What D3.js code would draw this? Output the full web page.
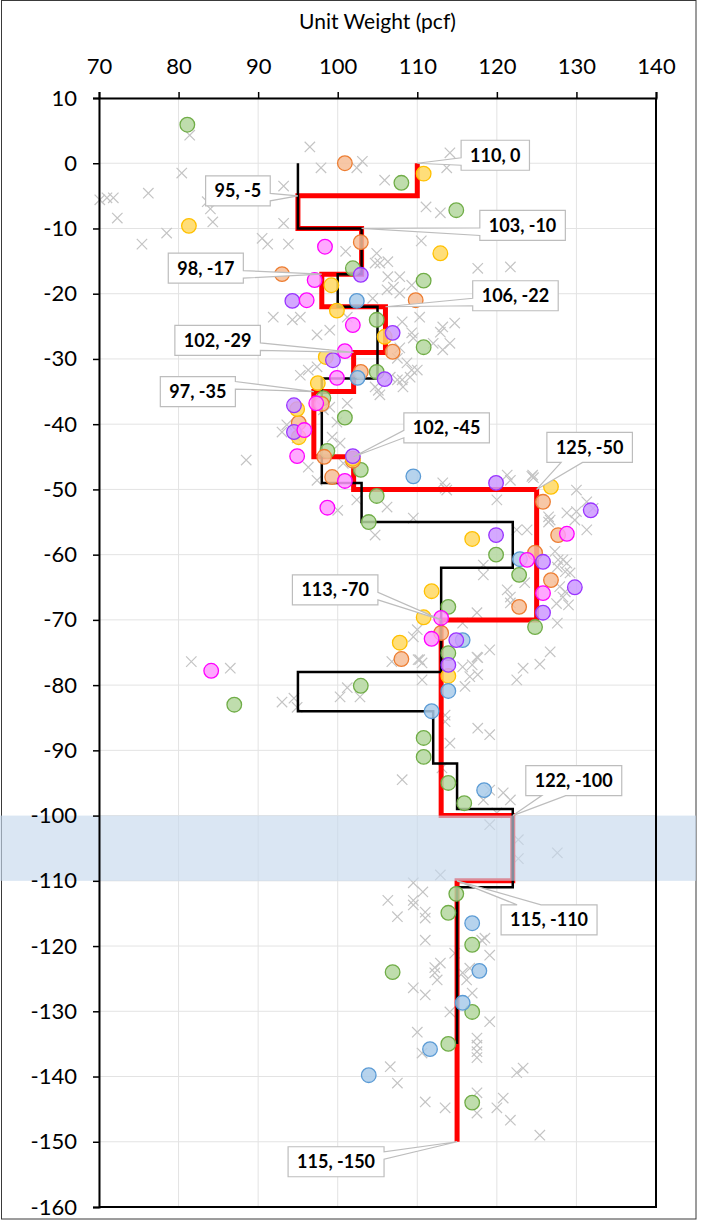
<!DOCTYPE html>
<html>
<head>
<meta charset="utf-8">
<script src="https://cdn.jsdelivr.net/npm/d3@7"></script>
<style>
  body { margin: 0; background: #fff; }
  svg { display: block; }
  text { font-family: Lato, "Open Sans", "Liberation Sans", sans-serif; }
</style>
</head>
<body>
<svg id="chart" width="718" height="1220"></svg>
<script>
// ---- axis ticks ----
const xTicks = [70, 80, 90, 100, 110, 120, 130, 140];
const yTicks = [10, 0, -10, -20, -30, -40, -50, -60, -70, -80, -90, -100, -110, -120, -130, -140, -150, -160];

// ---- design profile (red): unit weight per layer, layer tops, final base ----
const designWeight = [110, 95, 103, 98, 106, 102, 97, 102, 125, 113, 122, 115];
const designTop    = [0, -5, -10, -17, -22, -29, -35, -45, -50, -70, -100, -110];
const designBase   = -150;

// ---- averaged profile (black) ----
const avgWeight = [95, 103, 100, 105, 98, 103, 122, 113, 95, 112, 115, 122, 115];
const avgTop    = [0, -10, -17, -22, -33, -49, -55, -62, -78, -84, -92, -99, -111];
const avgBase   = -135;

// ---- highlighted depth band ----
const bandDepth = [-100, -110];

// ---- lab test results by boring: [unit weight, depth] ----
const greenPts = [[81.1,5.9],[108,-3],[114.9,-7.2],[101.9,-16.1],[110.8,-18],[104.9,-24],[110.8,-28.2],
  [104.9,-32],[98.2,-36],[100.9,-39],[98.7,-44.1],[102.9,-47],[104.9,-51],[103.9,-55],[119.9,-60],
  [122.8,-63.1],[124.8,-71.1],[113.9,-68],[113.9,-75.1],[102.9,-80.1],[87,-83],[110.8,-88.1],[110.8,-91],
  [113.9,-95],[115.9,-98.1],[114.9,-112],[113.9,-114.9],[116.9,-119.8],[106.9,-124],[116.9,-130.1],
  [113.9,-135],[116.9,-144]];
const orangePts = [[100.9,0],[102.9,-12.1],[93,-17],[109.8,-21],[106.9,-28.9],[102.9,-32],[98,-36.9],
  [95.1,-39.8],[98.3,-45],[101.9,-45.6],[99.3,-48.1],[125.8,-51.9],[127.7,-57],[124.8,-59.7],
  [126.8,-63.9],[122.8,-68],[113,-72],[108,-76]];
const yellowPts = [[110.8,-1.6],[81.3,-9.6],[112.9,-13.8],[99.2,-18.7],[99.9,-22.6],[105.9,-26.6],
  [98.5,-29.7],[97.5,-33.7],[94.9,-37.7],[95.1,-42],[101.9,-45.3],[126.8,-49.6],[116.9,-57.6],
  [111.8,-65.6],[110.8,-69.6],[107.8,-73.5],[113.9,-78.6]];
const bluePts = [[102.4,-21.1],[102.5,-32.9],[109.5,-48],[122.9,-60.7],[115.7,-73.1],[113.9,-80.9],
  [111.8,-84],[118.4,-96.1],[116.9,-116.5],[117.8,-123.8],[115.7,-128.7],[111.6,-135.8],[103.9,-139.8]];
const purplePts = [[102.9,-17.1],[94.3,-21.1],[106.9,-26],[99.4,-30.2],[105.9,-33.1],[94.5,-37.1],
  [94.5,-41.2],[101.9,-44.9],[119.9,-49],[131.8,-53.2],[119.9,-57],[125.8,-61.1],[129.8,-65],
  [125.8,-68.9],[114.9,-73.1],[113.9,-76.9]];
const magentaPts = [[98.4,-12.8],[97.1,-17.9],[96.1,-21],[101.9,-24.8],[100.9,-28.8],[99.9,-32.9],
  [97.3,-36.8],[95.8,-40.9],[94.9,-44.9],[100.9,-48.7],[98.7,-52.8],[128.8,-56.8],[123.8,-60.8],
  [125.8,-65.9],[113,-69.7],[111.8,-72.9],[84.1,-77.8]];

// ---- field-correlated estimates (gray crosses) ----
const crossPts = [[81.4,4.3],[96.5,2.5],[80.4,-1.5],[97.9,-0.7],[102.4,-0.7],[103.1,0.3],[105.9,-2.6],
  [93.2,-3.5],[70.1,-5.6],[71,-5.3],[71.8,-5.3],[76.2,-4.6],[83.6,-5.9],[84,-7],[84.3,-9],[72.3,-8.4],
  [78.5,-10.7],[75.4,-12.4],[90.5,-11.5],[91.2,-12.4],[93.2,-9.2],[93.8,-12.4],[101,-13.5],[104.9,-13.8],
  [105.3,-15.3],[104.4,-20.7],[91.9,-23.6],[94.3,-24],[106.2,-19.4],[101.2,-23.6],[113.7,-0.7],[114.1,1.6],
  [111.1,-6.7],[112.9,-7.6],[110.5,-11.9],[106.3,-15.1],[104.7,-15.3],[117.6,-16.1],[121.7,-15.9],
  [106.3,-17.4],[107.8,-17.4],[107,-19],[109.3,-18.7],[107.8,-19.9],[110.3,-23.6],[108.1,-24.3],
  [113.2,-25.1],[114.7,-24.5],[112.9,-25.9],[109.3,-26],[109.5,-26.8],[112,-27.6],[113.2,-28.6],
  [114.1,-27.6],[107.8,-28.3],[107.5,-29.9],[108.7,-30.6],[109.3,-31.7],[107.5,-33.2],[108.1,-33.2],
  [106.6,-32.8],[104.7,-34.3],[105.3,-35.5],[95.3,-32.5],[96.3,-31.7],[97.4,-31.2],[98.2,-37.8],
  [99,-37.4],[101.2,-36.8],[93.6,-40.1],[93,-41.2],[99.3,-42],[99.9,-39.7],[94.9,-42.1],[95.3,-23.6],
  [99,-25.6],[97.4,-26.3],[109.1,-32.8],[108.2,-34.3],[110,-31.7],[105.1,-34.8],[100.3,-42.9],
  [100.7,-46],[97.4,-48.6],[113.2,-49],[113.7,-50.1],[124.5,-47.8],[121.3,-47.8],[88.5,-45.5],
  [96.3,-46.6],[100,-53.2],[102.4,-51.6],[106.2,-52.7],[109.5,-54.4],[104.7,-57],[113.5,-49.8],
  [120,-51.6],[121.7,-48.6],[123.8,-56.2],[122.5,-56.2],[126.7,-54.7],[128.8,-53.6],[129.8,-54.7],
  [118.3,-61.6],[118.3,-63.1],[121.3,-65.4],[121.7,-66.5],[121.7,-67.4],[123.5,-64.3],[127.6,-61.9],
  [128.3,-60.8],[129.2,-62.8],[128.3,-66.5],[127.6,-70.5],[117.5,-68.9],[115.7,-70.5],[110,-71.5],
  [110.3,-76.1],[109.5,-72.6],[119.1,-74.6],[117.5,-75.7],[115.7,-77.2],[116.6,-78.7],[122.5,-79.2],
  [123.3,-77.4],[126.7,-74.9],[101.2,-80.4],[102.8,-81.8],[100.3,-81.8],[81.6,-76.4],[86.5,-77.4],
  [93,-82.6],[94.5,-82],[94.9,-83.4],[106.8,-76.4],[110.1,-76.1],[110.6,-76.6],[110.6,-79.2],
  [116.9,-76.9],[117.6,-75.8],[117.6,-78.4],[116,-80.2],[113.5,-84.6],[113.5,-85.6],[114.1,-88.9],
  [117.6,-86.6],[119.1,-87.6],[113.1,-92.7],[108.1,-94.5],[119.1,-96.1],[124.4,-48],[124.6,-48.2],
  [130,-50.1],[131.3,-51.9],[132.1,-52.9],[130,-53.4],[126.5,-54.2],[126.5,-55],[131.3,-56.2],
  [127.3,-59.5],[127.7,-60.8],[128.8,-61.3],[128.6,-62.6],[127.9,-64.9],[128.6,-65.7],[127.5,-67.5],
  [129,-67.7],[125.4,-76.8],
  [120.8,-96.5],[121.7,-97.6],[118.3,-97.6],[120,-99.6],[119.1,-101.4],[122.7,-103.7],[122.7,-106.6],
  [127.6,-105.7],[112.9,-109.1],[109.5,-110.3],[110.7,-111.7],[109.5,-113],[109.5,-113.7],[106.3,-113],
  [107.5,-115.5],[111,-114.8],[111,-115.7],[111,-119.1],[114.7,-121.1],[118.5,-118.8],[118.1,-119.1],
  [119.1,-121.4],[112.9,-122.6],[112.2,-123.3],[112.2,-124.1],[112.5,-125.2],[115.7,-124.1],
  [116.2,-125.2],[116.6,-123.4],[109.5,-126.4],[111,-127.5],[116.9,-127.2],[114.1,-130.1],
  [119.1,-131.6],[110,-133.2],[110.6,-136.4],[117.5,-134.1],[117.5,-135.2],[117.5,-136.2],
  [117.5,-137.1],[106.6,-138.5],[107.5,-141],[122.5,-139.4],[123.3,-138.7],[111,-143.9],[113.5,-144.8],
  [117.5,-142.5],[117.5,-145.6],[120.8,-143.3],[120,-144.8],[121.7,-146.7],[125.4,-149]];

// ---- layout ----
const plot = { left: 99, right: 656, top: 98, bottom: 1207 };
const svg = d3.select("#chart");

const x = d3.scaleLinear().domain([70, 140]).range([plot.left, plot.right]);
const y = d3.scaleLinear().domain([10, -160]).range([plot.top, plot.bottom]);

// outer frame
svg.append("rect").attr("x", 1.5).attr("y", 0.5).attr("width", 694.5).attr("height", 1218.5)
  .attr("fill", "#fff").attr("stroke", "#3a3a3a").attr("stroke-width", 1);

// gridlines
const grid = svg.append("g").attr("stroke", "#e3e3e3").attr("stroke-width", 1);
grid.selectAll("line.v").data(xTicks).join("line")
  .attr("x1", d => x(d)).attr("x2", d => x(d)).attr("y1", plot.top).attr("y2", plot.bottom);
grid.selectAll("line.h").data(yTicks).join("line")
  .attr("x1", plot.left).attr("x2", plot.right).attr("y1", d => y(d)).attr("y2", d => y(d));

// crosses
const cr = 5.2;
svg.append("g").selectAll("path").data(crossPts).join("path")
  .attr("d", d => {
    const cx = x(d[0]), cy = y(d[1]);
    return `M${cx - cr},${cy - cr}L${cx + cr},${cy + cr}M${cx - cr},${cy + cr}L${cx + cr},${cy - cr}`;
  })
  .attr("stroke", "#c4c4c4").attr("stroke-width", 1.2).attr("fill", "none");

// step profile from layer weights/tops
function stepPoints(weights, tops, base) {
  const pts = [];
  weights.forEach((w, i) => {
    const bottom = i < weights.length - 1 ? tops[i + 1] : base;
    pts.push([w, tops[i]], [w, bottom]);
  });
  return pts;
}
const line = d3.line().x(d => x(d[0])).y(d => y(d[1]));

svg.append("path").datum(stepPoints(designWeight, designTop, designBase))
  .attr("d", line).attr("fill", "none").attr("stroke", "#ff0000").attr("stroke-width", 5)
  .attr("stroke-linejoin", "miter");
svg.append("path").datum(stepPoints(avgWeight, avgTop, avgBase))
  .attr("d", line).attr("fill", "none").attr("stroke", "#000").attr("stroke-width", 2.5)
  .attr("stroke-linejoin", "miter");

// test results
const series = [
  { pts: greenPts,   stroke: "#70ad47", fill: "#b4d79f" },
  { pts: orangePts,  stroke: "#ed7d31", fill: "#f6bd97" },
  { pts: yellowPts,  stroke: "#ffc000", fill: "#ffd862" },
  { pts: bluePts,    stroke: "#5b9bd5", fill: "#a9cbea" },
  { pts: purplePts,  stroke: "#9933ff", fill: "#cc99ff" },
  { pts: magentaPts, stroke: "#ff00ff", fill: "#ff99ff" }
];
series.forEach(s => {
  svg.append("g").selectAll("circle").data(s.pts).join("circle")
    .attr("cx", d => x(d[0])).attr("cy", d => y(d[1])).attr("r", 7.3)
    .attr("fill", s.fill).attr("fill-opacity", 0.85)
    .attr("stroke", s.stroke).attr("stroke-width", 1.3);
});

// highlighted band
svg.append("rect").attr("x", 0).attr("width", 696)
  .attr("y", y(bandDepth[0])).attr("height", y(bandDepth[1]) - y(bandDepth[0]))
  .attr("fill", "#c6d9ec").attr("fill-opacity", 0.65);

// axes
const fmt = d => String(d);
const axisTop = svg.append("g").attr("transform", `translate(0,${plot.top})`)
  .call(d3.axisTop(x).tickValues(xTicks).tickFormat(fmt).tickSize(6).tickPadding(18));
const axisLeft = svg.append("g").attr("transform", `translate(${plot.left},0)`)
  .call(d3.axisLeft(y).tickValues(yTicks).tickFormat(fmt).tickSize(6).tickPadding(16));
[axisTop, axisLeft].forEach(g => {
  g.select(".domain").attr("stroke", "#000").attr("stroke-width", 2);
  g.selectAll(".tick line").attr("stroke", "#000").attr("stroke-width", 1.5);
  g.selectAll(".tick text").attr("fill", "#000").style("font-size", "22px")
    .style("font-family", "Lato, 'Open Sans', sans-serif");
});
// right and bottom plot border
svg.append("path")
  .attr("d", `M${plot.right},${plot.top}V${plot.bottom}H${plot.left}`)
  .attr("fill", "none").attr("stroke", "#000").attr("stroke-width", 2);

// axis title
svg.append("text").attr("x", (plot.left + plot.right) / 2).attr("y", 29)
  .attr("text-anchor", "middle").style("font-size", "21px").attr("fill", "#000")
  .text("Unit Weight (pcf)");

// callout labels at layer corners
const labelPts = designWeight.map((w, i) => [w, designTop[i]]).concat([[designWeight[designWeight.length - 1], designBase]]);
const labelOffsets = [[78, -8], [-60, -5], [161, -3], [-116, -6], [130, -11], [-136, -12], [-116, 0],
  [93, -29], [53, -42], [-106, -30], [61, -35], [92, 39], [-121, 20]];

const labels = svg.append("g");
labelPts.forEach((p, i) => {
  const tx = x(p[0]), ty = y(p[1]);
  const cx = tx + labelOffsets[i][0], cy = ty + labelOffsets[i][1];
  const g = labels.append("g");
  const path = g.append("path");
  const t = g.append("text").attr("x", cx).attr("y", cy).attr("dy", "0.36em")
    .attr("text-anchor", "middle").style("font-size", "18px").style("font-weight", "bold")
    .attr("fill", "#000").text(`${p[0]}, ${p[1]}`);
  const tw = t.node().getComputedTextLength();
  const w = tw + 18, h = 30;
  const l = cx - w / 2, r = cx + w / 2, top = cy - h / 2, b = cy + h / 2;
  const dx = tx - cx, dy = ty - cy;
  const dz = Math.abs(dy) - Math.abs(dx) * h / w;
  const x1 = l + w * (dx > 0 ? 7 : 2) / 12, x2 = l + w * (dx > 0 ? 10 : 5) / 12;
  const y1 = top + h * (dy > 0 ? 7 : 2) / 12, y2 = top + h * (dy > 0 ? 10 : 5) / 12;
  let d = `M${l},${top}`;
  if (dz > 0 && dy < 0) d += `L${x1},${top}L${tx},${ty}L${x2},${top}`;
  d += `L${r},${top}`;
  if (dz <= 0 && dx > 0) d += `L${r},${y1}L${tx},${ty}L${r},${y2}`;
  d += `L${r},${b}`;
  if (dz > 0 && dy > 0) d += `L${x2},${b}L${tx},${ty}L${x1},${b}`;
  d += `L${l},${b}`;
  if (dz <= 0 && dx < 0) d += `L${l},${y2}L${tx},${ty}L${l},${y1}`;
  d += "Z";
  path.attr("d", d).attr("fill", "#fff").attr("stroke", "#bdbdbd").attr("stroke-width", 1.2);
});
</script>
</body>
</html>
